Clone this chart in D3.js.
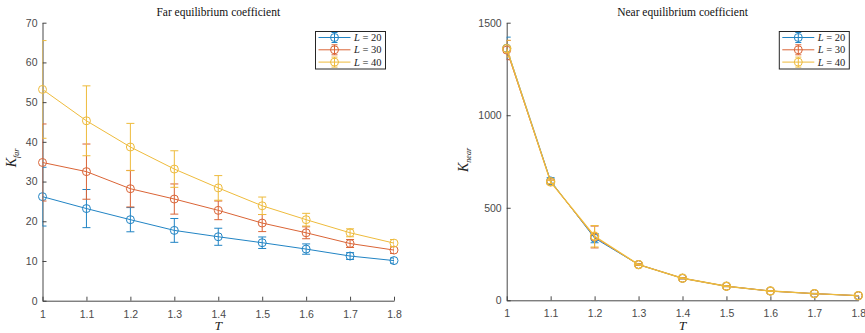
<!DOCTYPE html>
<html><head><meta charset="utf-8">
<script src="https://cdn.jsdelivr.net/npm/d3@7"></script>
<style>
html,body{margin:0;padding:0;background:#fff;}
svg{display:block;}
</style></head>
<body>
<svg id="c" width="865" height="333"></svg>
<script>
// ---- data ----
const T = [1, 1.1, 1.2, 1.3, 1.4, 1.5, 1.6, 1.7, 1.8];
const seriesNames = ["20", "30", "40"];
const colors = ["#2184c4", "#da6436", "#eebb3c"];

const farL20    = [26.2, 23.2, 20.4, 17.7, 16.1, 14.6, 13.0, 11.25, 10.1];
const farL20Err = [7.4, 4.8, 3.05, 3.0, 2.15, 1.45, 1.3, 0.85, 0.65];
const farL30    = [34.8, 32.5, 28.2, 25.6, 22.75, 19.55, 17.1, 14.4, 12.75];
const farL30Err = [9.7, 6.95, 4.6, 3.8, 2.35, 2.15, 1.5, 1.0, 0.85];
const farL40    = [53.2, 45.3, 38.7, 33.15, 28.4, 23.9, 20.4, 17.1, 14.5];
const farL40Err = [12.3, 8.8, 5.95, 4.6, 3.1, 2.2, 1.6, 1.0, 0.9];

const nearL20    = [1362, 645, 336, 193, 119, 76, 50, 36, 25];
const nearL20Err = [60, 17, 25, 4, 3, 2, 1, 1, 1];
const nearL30    = [1352, 640, 342, 193, 119, 76, 50, 36, 25];
const nearL30Err = [52, 10, 59, 4, 3, 2, 1, 1, 1];
const nearL40    = [1360, 640, 346, 193, 119, 76, 50, 36, 25];
const nearL40Err = [45, 9, 58, 3, 2, 2, 1, 1, 1];

const farTicks = [0, 10, 20, 30, 40, 50, 60, 70];
const nearTicks = [0, 500, 1000, 1500];

// ---- drawing ----
const svg = d3.select("#c");

function panel(opt) {
  const x = d3.scaleLinear().domain([1, 1.8]).range([opt.x0, opt.x1]);
  const y = d3.scaleLinear().domain(opt.yDomain).range([opt.y0, opt.y1]);
  const g = svg.append("g");
  const clipId = "clip" + opt.id;
  svg.append("clipPath").attr("id", clipId).append("rect")
    .attr("x", opt.x0).attr("y", opt.y1).attr("width", opt.x1 - opt.x0).attr("height", opt.y0 - opt.y1);

  // axes
  const xa = g.append("g").attr("transform", `translate(0,${opt.y0})`)
    .call(d3.axisBottom(x).tickValues(T).tickFormat(d => String(d)).tickSizeInner(-4).tickSizeOuter(0).tickPadding(7));
  const ya = g.append("g").attr("transform", `translate(${opt.x0},0)`)
    .call(d3.axisLeft(y).tickValues(opt.yTicks).tickFormat(d => String(d)).tickSizeInner(-4).tickSizeOuter(0).tickPadding(5));
  [xa, ya].forEach(a => {
    a.select(".domain").attr("stroke", "#333").attr("stroke-width", 0.9);
    a.selectAll(".tick line").attr("stroke", "#333").attr("stroke-width", 0.9);
    a.selectAll(".tick text").attr("fill", "#4a4a4a").style("font-family", "'Liberation Sans', Arial, sans-serif").style("font-size", "10.5px");
  });
  xa.selectAll(".tick text").attr("dy", "0.95em");

  // series
  opt.series.forEach((s, i) => {
    const col = colors[i];
    const sw = opt.widths[i];
    const sg = g.append("g");
    const pts = T.map((t, k) => ({t, v: s.v[k], e: s.e[k]}));
    const lc = sg.append("g").attr("clip-path", `url(#${clipId})`);
    lc.append("path").datum(pts)
      .attr("d", d3.line().x(d => x(d.t)).y(d => y(d.v)))
      .attr("fill", "none").attr("stroke", col).attr("stroke-width", sw);
    const eb = lc.selectAll("g.eb").data(pts).join("g").attr("class", "eb")
      .attr("stroke", col).attr("stroke-width", 1);
    eb.append("line").attr("x1", d => x(d.t)).attr("x2", d => x(d.t))
      .attr("y1", d => y(d.v - d.e)).attr("y2", d => y(d.v + d.e));
    eb.append("line").attr("x1", d => x(d.t) - 4).attr("x2", d => x(d.t) + 4)
      .attr("y1", d => y(d.v + d.e)).attr("y2", d => y(d.v + d.e));
    eb.append("line").attr("x1", d => x(d.t) - 4).attr("x2", d => x(d.t) + 4)
      .attr("y1", d => y(d.v - d.e)).attr("y2", d => y(d.v - d.e));
    sg.selectAll("circle").data(pts).join("circle")
      .attr("cx", d => x(d.t)).attr("cy", d => y(d.v)).attr("r", 4)
      .attr("fill", "none").attr("stroke", col).attr("stroke-width", sw);
  });

  // title
  svg.append("text").attr("x", (opt.x0 + opt.x1) / 2).attr("y", 16)
    .attr("text-anchor", "middle")
    .style("font-family", "'Liberation Serif', 'Times New Roman', serif").style("font-size", "11.5px")
    .attr("fill", "#111").text(opt.title);
  // x label
  svg.append("text").attr("x", (opt.x0 + opt.x1) / 2).attr("y", 330)
    .attr("text-anchor", "middle")
    .style("font-family", "'Liberation Serif', serif").style("font-style", "italic").style("font-size", "13.5px")
    .attr("fill", "#222").text("T");
  // y label
  const yl = svg.append("text")
    .attr("transform", `translate(${opt.ylx},${opt.yly}) rotate(-90)`)
    .attr("text-anchor", "middle")
    .style("font-family", "'Liberation Serif', serif").style("font-style", "italic")
    .attr("fill", "#222");
  yl.append("tspan").style("font-size", "14px").text("K");
  yl.append("tspan").style("font-size", "8px").attr("dy", 3).text(opt.sub);

  // legend
  const lg = svg.append("g").attr("transform", `translate(${opt.lx},${opt.ly})`);
  lg.append("rect").attr("x", 0).attr("y", 0).attr("width", 70).attr("height", 37.5)
    .attr("fill", "#fff").attr("stroke", "#262626").attr("stroke-width", 1);
  seriesNames.forEach((n, i) => {
    const cy = 6 + i * 12.3;
    const col = colors[i];
    const r = lg.append("g").attr("stroke", col).attr("stroke-width", 1).attr("fill", "none");
    r.append("line").attr("x1", 3).attr("x2", 35).attr("y1", cy).attr("y2", cy);
    r.append("line").attr("x1", 19).attr("x2", 19).attr("y1", cy - 5).attr("y2", cy + 5);
    r.append("line").attr("x1", 16).attr("x2", 22).attr("y1", cy - 5).attr("y2", cy - 5);
    r.append("line").attr("x1", 16).attr("x2", 22).attr("y1", cy + 5).attr("y2", cy + 5);
    r.append("circle").attr("cx", 19).attr("cy", cy).attr("r", 4);
    const t = lg.append("text").attr("x", 38.5).attr("y", cy + 3.5)
      .style("font-family", "'Liberation Serif', serif").style("font-size", "10.5px").attr("fill", "#222")
      .attr("xml:space", "preserve");
    t.append("tspan").style("font-style", "italic").text("L");
    t.append("tspan").text(" = " + n);
  });
}

panel({
  id: "far", x0: 42.5, x1: 394, y0: 300.7, y1: 22.7, yDomain: [0, 70], yTicks: farTicks,
  title: "Far equilibrium coefficient", sub: "far", ylx: 16, yly: 158,
  lx: 315.5, ly: 31.5, widths: [1, 1, 1],
  series: [{v: farL20, e: farL20Err}, {v: farL30, e: farL30Err}, {v: farL40, e: farL40Err}]
});
panel({
  id: "near", x0: 506.7, x1: 858.3, y0: 300.3, y1: 22.7, yDomain: [0, 1500], yTicks: nearTicks,
  title: "Near equilibrium coefficient", sub: "near", ylx: 468, yly: 160,
  lx: 779.3, ly: 31.5, widths: [1, 1, 1.4],
  series: [{v: nearL20, e: nearL20Err}, {v: nearL30, e: nearL30Err}, {v: nearL40, e: nearL40Err}]
});
</script>
</body></html>
